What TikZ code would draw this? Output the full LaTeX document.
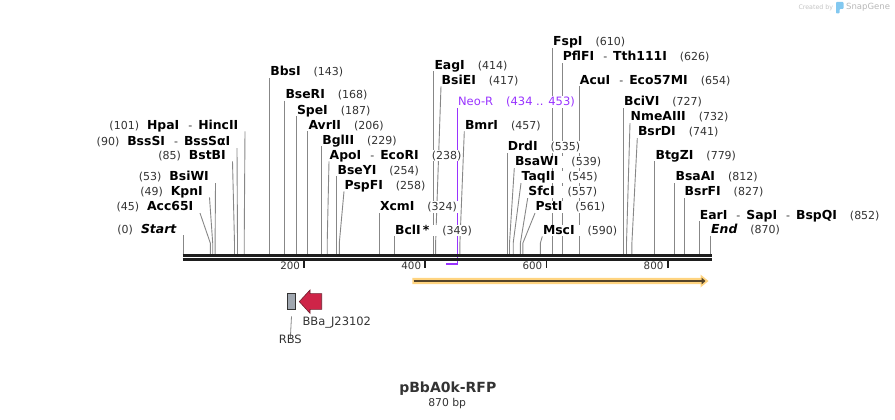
\documentclass[tikz,border=0pt]{standalone}
\usepackage{fontspec}
\setmainfont{DejaVu Sans}[ItalicFont={DejaVu Sans Oblique},BoldItalicFont={DejaVu Sans Bold Oblique}]
\usetikzlibrary{arrows.meta}
\pgfdeclarelayer{edgelayer}
\pgfdeclarelayer{nodelayer}
\pgfsetlayers{edgelayer,nodelayer,main}
\definecolor{numgray}{RGB}{51,51,51}
\definecolor{cutgray}{RGB}{135,135,135}
\definecolor{backbone}{RGB}{30,30,30}
\definecolor{neopurple}{RGB}{153,51,255}
\definecolor{rfporange}{RGB}{255,212,128}
\definecolor{rfpdark}{RGB}{85,68,40}
\definecolor{prored}{RGB}{206,36,72}
\definecolor{proedge}{RGB}{110,30,45}
\definecolor{rbsgray}{RGB}{160,167,176}
\definecolor{wmgray}{RGB}{195,195,195}
\definecolor{wmblue}{RGB}{130,200,240}
\newcommand{\nm}[1]{{\fontsize{12.4}{14}\selectfont\bfseries\color{black}#1}}
\newcommand{\dash}{\hspace{9pt}-\hspace{6pt}}
\tikzstyle{none}=[inner sep=0pt]
\tikzstyle{site}=[anchor=south west,inner sep=0.5pt,fill=white,text height=9pt,text depth=1.5pt,font=\fontsize{11}{13}\selectfont,text=numgray]
\tikzstyle{site left}=[site,anchor=south east]
\tikzstyle{cut}=[draw=cutgray,line width=0.9pt]
\tikzstyle{ruler}=[anchor=east,inner sep=0pt,font=\fontsize{10.3}{12}\selectfont,text=numgray]
\tikzstyle{feature label}=[inner sep=0pt,font=\fontsize{11.5}{13}\selectfont,text=numgray]

\begin{document}
\begin{tikzpicture}[x=1pt,y=-1pt]
	\useasboundingbox (0,0) rectangle (895,420);
	\begin{pgfonlayer}{nodelayer}
		% sites left of the first label column
		\node [style=site left] (0) at (177, 235.4) {(0)\hspace{8pt}\nm{\itshape Start}};
		\node [style=site left] (1) at (194, 213.1) {(45)\hspace{8pt}\nm{Acc65I}};
		\node [style=site left] (2) at (203.5, 197.4) {(49)\hspace{8pt}\nm{KpnI}};
		\node [style=site left] (3) at (209.5, 183.1) {(53)\hspace{8pt}\nm{BsiWI}};
		\node [style=site left] (4) at (226.5, 161.4) {(85)\hspace{8pt}\nm{BstBI}};
		\node [style=site left] (5) at (231, 148.1) {(90)\hspace{8pt}\nm{BssSI}\dash\nm{BssSαI}};
		\node [style=site left] (6) at (239, 131.4) {(101)\hspace{8pt}\nm{HpaI}\dash\nm{HincII}};
		% sites to the right
		\node [style=site] (7) at (269.6, 78.1) {\nm{BbsI}\hspace{13pt}(143)};
		\node [style=site] (8) at (284.8, 100.7) {\nm{BseRI}\hspace{13pt}(168)};
		\node [style=site] (9) at (296.3, 116.4) {\nm{SpeI}\hspace{13pt}(187)};
		\node [style=site] (10) at (307.8, 131.4) {\nm{AvrII}\hspace{13pt}(206)};
		\node [style=site] (11) at (321.7, 146.4) {\nm{BglII}\hspace{13pt}(229)};
		\node [style=site] (12) at (329, 161.4) {\nm{ApoI}\dash\nm{EcoRI}\hspace{13pt}(238)};
		\node [style=site] (13) at (336.9, 176.4) {\nm{BseYI}\hspace{13pt}(254)};
		\node [style=site] (14) at (344, 191.4) {\nm{PspFI}\hspace{13pt}(258)};
		\node [style=site] (15) at (379.3, 213.1) {\nm{XcmI}\hspace{13pt}(324)};
		\node [style=site] (16) at (394.4, 236.4) {\nm{BclI\,*}\hspace{13pt}(349)};
		\node [style=site] (17) at (433.8, 71.4) {\nm{EagI}\hspace{13pt}(414)};
		\node [style=site] (18) at (441, 86.4) {\nm{BsiEI}\hspace{13pt}(417)};
		\node [style=site, text=neopurple, font=\fontsize{11.5}{13}\selectfont] (19) at (457.4, 108.1) {Neo-R\hspace{13pt}(434 .. 453)};
		\node [style=site] (20) at (464.3, 131.4) {\nm{BmrI}\hspace{13pt}(457)};
		\node [style=site] (21) at (507.1, 153.1) {\nm{DrdI}\hspace{13pt}(535)};
		\node [style=site] (22) at (514.3, 168.1) {\nm{BsaWI}\hspace{13pt}(539)};
		\node [style=site] (23) at (521, 183.1) {\nm{TaqII}\hspace{13pt}(545)};
		\node [style=site] (24) at (527.7, 198.1) {\nm{SfcI}\hspace{13pt}(557)};
		\node [style=site] (25) at (535, 213.1) {\nm{PstI}\hspace{13pt}(561)};
		\node [style=site] (26) at (542.3, 236.4) {\nm{MscI}\hspace{13pt}(590)};
		\node [style=site] (27) at (552.5, 48.1) {\nm{FspI}\hspace{13pt}(610)};
		\node [style=site] (28) at (562.2, 63.1) {\nm{PflFI}\dash\nm{Tth111I}\hspace{13pt}(626)};
		\node [style=site] (29) at (579.2, 86.4) {\nm{AcuI}\dash\nm{Eco57MI}\hspace{13pt}(654)};
		\node [style=site] (30) at (623.4, 108.1) {\nm{BciVI}\hspace{13pt}(727)};
		\node [style=site] (31) at (630, 123.1) {\nm{NmeAIII}\hspace{13pt}(732)};
		\node [style=site] (32) at (637.3, 138.1) {\nm{BsrDI}\hspace{13pt}(741)};
		\node [style=site] (33) at (654.9, 161.4) {\nm{BtgZI}\hspace{13pt}(779)};
		\node [style=site] (34) at (674.9, 183.1) {\nm{BsaAI}\hspace{13pt}(812)};
		\node [style=site] (35) at (684, 198.1) {\nm{BsrFI}\hspace{13pt}(827)};
		\node [style=site] (36) at (699.1, 221.4) {\nm{EarI}\dash\nm{SapI}\dash\nm{BspQI}\hspace{13pt}(852)};
		\node [style=site] (37) at (710.5, 235.7) {\nm{\itshape End}\hspace{13pt}(870)};
		% points on the backbone
		\node [style=none] (50) at (183, 254) {};
		\node [style=none] (51) at (210.3, 254) {};
		\node [style=none] (52) at (212.7, 254) {};
		\node [style=none] (53) at (215.1, 254) {};
		\node [style=none] (54) at (234.5, 254) {};
		\node [style=none] (55) at (237.5, 254) {};
		\node [style=none] (56) at (244.2, 254) {};
		\node [style=none] (57) at (269.6, 254) {};
		\node [style=none] (58) at (284.8, 254) {};
		\node [style=none] (59) at (296.3, 254) {};
		\node [style=none] (60) at (307.8, 254) {};
		\node [style=none] (61) at (321.7, 254) {};
		\node [style=none] (62) at (327.2, 254) {};
		\node [style=none] (63) at (336.9, 254) {};
		\node [style=none] (64) at (339.3, 254) {};
		\node [style=none] (65) at (379.3, 254) {};
		\node [style=none] (66) at (394.4, 254) {};
		\node [style=none] (67) at (433.8, 254) {};
		\node [style=none] (68) at (435.6, 254) {};
		\node [style=none] (69) at (457.4, 264) {};
		\node [style=none] (70) at (459.9, 254) {};
		\node [style=none] (71) at (507.1, 254) {};
		\node [style=none] (72) at (509.5, 254) {};
		\node [style=none] (73) at (513.2, 254) {};
		\node [style=none] (74) at (520.4, 254) {};
		\node [style=none] (75) at (522.9, 254) {};
		\node [style=none] (76) at (540.4, 254) {};
		\node [style=none] (77) at (552.5, 254) {};
		\node [style=none] (78) at (562.2, 254) {};
		\node [style=none] (79) at (579.2, 254) {};
		\node [style=none] (80) at (623.4, 254) {};
		\node [style=none] (81) at (626.5, 254) {};
		\node [style=none] (82) at (631.9, 254) {};
		\node [style=none] (83) at (654.9, 254) {};
		\node [style=none] (84) at (674.9, 254) {};
		\node [style=none] (85) at (684, 254) {};
		\node [style=none] (86) at (699.1, 254) {};
		\node [style=none] (87) at (710.5, 254) {};
		\node [style=none] (88) at (445.9, 264) {};
		% ruler
		\node [style=ruler] (90) at (300.2, 266) {200};
		\node [style=ruler] (91) at (421.3, 266) {400};
		\node [style=ruler] (92) at (542.5, 266) {600};
		\node [style=ruler] (93) at (663.6, 266) {800};
		% features
		\node [style=none, draw=numgray, line width=0.8pt, fill=rbsgray, minimum width=7.6pt, minimum height=16pt] (94) at (291.5, 301.3) {};
		\node [style=feature label] (95) at (290.3, 339.3) {RBS};
		\node [style=feature label, anchor=west] (96) at (302.3, 322.3) {BBa\_J23102};
		% name
		\node [style=none, font=\fontsize{14}{16}\selectfont\bfseries, text=numgray] (97) at (447.8, 389) {pBbA0k-RFP};
		\node [style=none, font=\fontsize{10.8}{12}\selectfont, text=numgray] (98) at (447.2, 403.3) {870 bp};
		\node [style=none, anchor=west, font=\fontsize{6.3}{7}\selectfont, text=wmgray] (99) at (798.3, 7.3) {Created by};
		\node [style=none, anchor=west, font=\fontsize{8.5}{10}\selectfont, text=wmgray!120] (100) at (846, 7.3) {SnapGene};
	\end{pgfonlayer}
	\begin{pgfonlayer}{edgelayer}
		\draw [style=cut] ([xshift=6pt]0.south east) to (50.center);
		\draw [style=cut] ([xshift=6pt]1.south east) to ([yshift=11pt]51.center) to (51.center);
		\draw [style=cut] ([xshift=6pt]2.south east) to ([yshift=11pt]52.center) to (52.center);
		\draw [style=cut] ([xshift=6pt]3.south east) to ([yshift=11pt]53.center) to (53.center);
		\draw [style=cut] ([xshift=6pt]4.south east) to ([yshift=11pt]54.center) to (54.center);
		\draw [style=cut] ([xshift=6pt]5.south east) to ([yshift=11pt]55.center) to (55.center);
		\draw [style=cut] ([xshift=6pt]6.south east) to ([yshift=11pt]56.center) to (56.center);
		\draw [style=cut] (7.south west) to (57.center);
		\draw [style=cut] (8.south west) to (58.center);
		\draw [style=cut] (9.south west) to (59.center);
		\draw [style=cut] (10.south west) to (60.center);
		\draw [style=cut] (11.south west) to (61.center);
		\draw [style=cut] (12.south west) to ([yshift=11pt]62.center) to (62.center);
		\draw [style=cut] (13.south west) to (63.center);
		\draw [style=cut] (14.south west) to ([yshift=11pt]64.center) to (64.center);
		\draw [style=cut] (15.south west) to (65.center);
		\draw [style=cut] (16.south west) to (66.center);
		\draw [style=cut] (17.south west) to (67.center);
		\draw [style=cut] (18.south west) to ([yshift=11pt]68.center) to (68.center);
		\draw [draw=neopurple, line width=1.5pt] (19.south west) to (69.center) to (88.center);
		\draw [style=cut] (20.south west) to ([yshift=11pt]70.center) to (70.center);
		\draw [style=cut] (21.south west) to (71.center);
		\draw [style=cut] (22.south west) to ([yshift=11pt]72.center) to (72.center);
		\draw [style=cut] (23.south west) to ([yshift=11pt]73.center) to (73.center);
		\draw [style=cut] (24.south west) to ([yshift=11pt]74.center) to (74.center);
		\draw [style=cut] (25.south west) to ([yshift=11pt]75.center) to (75.center);
		\draw [style=cut] (26.south west) to ([yshift=11pt]76.center) to (76.center);
		\draw [style=cut] (27.south west) to (77.center);
		\draw [style=cut] (28.south west) to (78.center);
		\draw [style=cut] (29.south west) to (79.center);
		\draw [style=cut] (30.south west) to (80.center);
		\draw [style=cut] (31.south west) to ([yshift=11pt]81.center) to (81.center);
		\draw [style=cut] (32.south west) to ([yshift=11pt]82.center) to (82.center);
		\draw [style=cut] (33.south west) to (83.center);
		\draw [style=cut] (34.south west) to (84.center);
		\draw [style=cut] (35.south west) to (85.center);
		\draw [style=cut] (36.south west) to (86.center);
		\draw [style=cut] (37.south west) to (87.center);
		\draw [draw=cutgray, line width=0.8pt] ([yshift=-6.7pt]94.south) to ([yshift=-4pt]95.north);
	\end{pgfonlayer}
	% backbone and scale
	\draw [backbone, line width=2.7pt] (182.7, 255.3) -- (711.7, 255.3);
	\draw [backbone, line width=2.4pt] (182.7, 259.5) -- (711.7, 259.5);
	\foreach \t in {304.2, 425.3, 546.5, 667.6}
		\draw [backbone, line width=1.8pt] (\t, 261) -- (\t, 267.5);
	% unlabelled feature
	\fill [rfporange] (412.3, 277.8) -- (700.5, 277.8) -- (700.5, 274.5) -- (708.5, 281) -- (700.5, 287.5) -- (700.5, 284.2) -- (412.3, 284.2) -- cycle;
	\draw [rfpdark, line width=1.8pt, -{Triangle[length=4pt, width=6.5pt]}] (413.5, 281) -- (705.5, 281);
	% promoter
	\filldraw [fill=prored, draw=proedge, line width=0.6pt] (299.3, 301.6) -- (310, 290) -- (310, 293.6) -- (321.7, 293.6) -- (321.7, 309.3) -- (310, 309.3) -- (310, 313.3) -- cycle;
	% logo
	\fill [wmblue, rounded corners=0.8pt] (836, 2) -- (843.5, 2) -- (843.5, 9) -- (839.5, 9) -- (839.5, 13.5) -- (836, 13.5) -- cycle;
\end{tikzpicture}
\end{document}
